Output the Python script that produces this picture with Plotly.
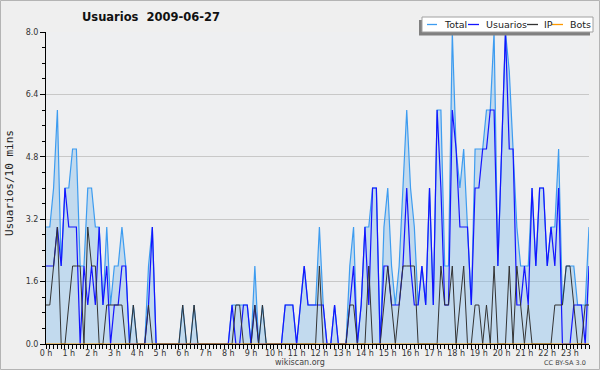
import plotly.graph_objects as go

# ---- data (one value per 10 minutes, 144 slots) ----
usuarios = [2, 2, 2, 3, 2, 4, 3, 3, 3, 0, 2, 1, 2, 1, 3, 1, 2, 0, 1, 1, 2, 2, 0, 0,
            0, 0, 0, 1, 3, 0, 0, 0, 0, 0, 0, 0, 0, 0, 0, 0, 0, 0, 0, 0, 0, 0, 0, 0,
            0, 1, 0, 0, 1, 1, 0, 1, 0, 0, 0, 0, 0, 0, 0, 1, 1, 1, 0, 1, 2, 1, 1, 1,
            1, 1, 0, 0, 1, 0, 0, 0, 1, 2, 0, 1, 3, 1, 4, 4, 0, 2, 2, 1, 1, 1, 2, 4,
            2, 1, 1, 2, 1, 4, 1, 6, 4, 1, 1, 6, 5, 3, 3, 3, 1, 4, 4, 5, 5, 6, 6, 2,
            5, 8, 5, 5, 1, 1, 2, 1, 4, 2, 4, 4, 2, 3, 2, 4, 0, 0, 0, 1, 1, 1, 0, 2]
ip = [1, 1, 2, 3, 0, 0, 1, 2, 2, 2, 0, 3, 2, 2, 0, 0, 1, 1, 1, 1, 1, 0, 0, 1,
      0, 0, 0, 1, 0, 0, 0, 0, 0, 0, 0, 0, 1, 0, 0, 1, 0, 0, 0, 0, 0, 0, 0, 0,
      0, 0, 1, 1, 0, 0, 0, 1, 0, 1, 0, 0, 0, 0, 0, 0, 0, 0, 0, 0, 0, 0, 0, 0,
      2, 0, 0, 0, 0, 0, 0, 0, 1, 1, 0, 0, 0, 2, 0, 0, 0, 1, 2, 1, 0, 1, 2, 2,
      2, 2, 0, 0, 0, 0, 0, 0, 2, 1, 1, 2, 0, 1, 2, 0, 0, 1, 1, 0, 1, 0, 2, 0,
      0, 0, 2, 0, 2, 1, 0, 1, 0, 0, 0, 0, 0, 0, 1, 1, 1, 2, 2, 1, 0, 0, 1, 1]
total = [3, 3, 4, 6, 2, 4, 4, 5, 5, 2, 2, 4, 4, 3, 3, 1, 3, 1, 2, 2, 3, 2, 0, 1,
         0, 0, 0, 2, 3, 0, 0, 0, 0, 0, 0, 0, 1, 0, 0, 1, 0, 0, 0, 0, 0, 0, 0, 0,
         0, 1, 1, 1, 1, 1, 0, 2, 0, 1, 0, 0, 0, 0, 0, 1, 1, 1, 0, 1, 2, 1, 1, 1,
         3, 1, 0, 0, 1, 0, 0, 0, 2, 3, 0, 1, 3, 3, 4, 4, 0, 3, 4, 2, 1, 2, 4, 6,
         4, 3, 1, 2, 1, 4, 1, 6, 6, 2, 2, 8, 5, 4, 5, 3, 1, 5, 5, 5, 6, 6, 8, 2,
         5, 8, 7, 5, 3, 2, 2, 2, 4, 2, 4, 4, 2, 3, 3, 5, 1, 2, 2, 2, 1, 1, 1, 3]
bots = [0, 0, 0, 0, 0, 0, 0, 0, 0, 0, 0, 0, 0, 0, 0, 0, 0, 0, 0, 0, 0, 0, 0, 0,
        0, 0, 0, 0, 0, 0, 0, 0, 0, 0, 0, 0, 0, 0, 0, 0, 0, 0, 0, 0, 0, 0, 0, 0,
        0, 0, 0, 0, 0, 0, 0, 0, 0, 0, 0, 0, 0, 0, 0, 0, 0, 0, 0, 0, 0, 0, 0, 0,
        0, 0, 0, 0, 0, 0, 0, 0, 0, 0, 0, 0, 0, 0, 0, 0, 0, 0, 0, 0, 0, 0, 0, 0,
        0, 0, 0, 0, 0, 0, 0, 0, 0, 0, 0, 0, 0, 0, 0, 0, 0, 0, 0, 0, 0, 0, 0, 0,
        0, 0, 0, 0, 0, 0, 0, 0, 0, 0, 0, 0, 0, 0, 0, 0, 0, 0, 0, 0, 0, 0, 0, 0]
hour_labels = ["0 h", "1 h", "2 h", "3 h", "4 h", "5 h", "6 h", "7 h", "8 h", "9 h",
               "10 h", "11 h", "12 h", "13 h", "14 h", "15 h", "16 h", "17 h",
               "18 h", "19 h", "20 h", "21 h", "22 h", "23 h"]
y_tick_values = [0.0, 1.6, 3.2, 4.8, 6.4, 8.0]
y_tick_labels = ["0.0", "1.6", "3.2", "4.8", "6.4", "8.0"]
series_names = ["Total", "Usuarios", "IP", "Bots"]
series_colors = ["#3d9cf0", "#1414ff", "#333333", "#ff9900"]

slots = list(range(len(total)))

# ---- layout geometry (pixels) ----
W, H = 600, 370
ML, MR, MT, MB = 46, 11, 32, 26
PW, PH = W - ML - MR, H - MT - MB


def px(x):
    return (x - ML) / PW


def py(y):
    return (H - MB - y) / PH


fig = go.Figure()
fig.add_trace(go.Scatter(x=slots, y=total, mode="lines", name=series_names[0],
                         line=dict(color=series_colors[0], width=1.2),
                         fill="tozeroy", fillcolor="rgba(124,185,235,0.38)",
                         showlegend=False, hoverinfo="skip"))
fig.add_trace(go.Scatter(x=slots, y=usuarios, mode="lines", name=series_names[1],
                         line=dict(color=series_colors[1], width=1.2),
                         showlegend=False, hoverinfo="skip"))
fig.add_trace(go.Scatter(x=slots, y=ip, mode="lines", name=series_names[2],
                         line=dict(color=series_colors[2], width=1),
                         showlegend=False, hoverinfo="skip"))
fig.add_trace(go.Scatter(x=slots, y=bots, mode="lines", name=series_names[3],
                         line=dict(color=series_colors[3], width=1),
                         showlegend=False, hoverinfo="skip"))

hour_ticks = [h * 6 for h in range(len(hour_labels))]
y_minor = [round(i * 0.4, 1) for i in range(21) if round(i * 0.4, 1) not in y_tick_values]

fig.update_xaxes(range=[0, len(total) - 1], tickmode="array", tickvals=hour_ticks,
                 ticktext=hour_labels, ticks="outside", ticklen=4, tickcolor="#000",
                 tickwidth=1, showline=True, linecolor="#000", linewidth=1,
                 showgrid=False, zeroline=False, ticklabelstandoff=-3,
                 tickfont=dict(family="DejaVu Sans", size=8, color="#333"),
                 minor=dict(tickmode="array", tickvals=slots, ticks="outside",
                            ticklen=4, tickcolor="#000", showgrid=False))
fig.update_yaxes(range=[0, 8], tickmode="array", tickvals=y_tick_values,
                 ticktext=y_tick_labels, ticks="outside", ticklen=5, tickcolor="#000",
                 showline=True, linecolor="#000", linewidth=1,
                 showgrid=True, gridcolor="#c8c8c8", gridwidth=1, zeroline=False,
                 tickfont=dict(family="DejaVu Sans", size=8, color="#333"),
                 minor=dict(tickmode="array", tickvals=y_minor, ticks="outside",
                            ticklen=3, tickcolor="#000", showgrid=False))

shapes = [
    # outer frame
    dict(type="rect", xref="paper", yref="paper", x0=px(0.5), x1=px(599.5),
         y0=py(369.5), y1=py(0.5), line=dict(color="#b4b4b4", width=1), layer="above"),
    # legend shadow + box
    dict(type="rect", xref="paper", yref="paper", x0=px(419), x1=px(590),
         y0=py(35.5), y1=py(20), fillcolor="#808080", line=dict(width=0), layer="above"),
    dict(type="rect", xref="paper", yref="paper", x0=px(422), x1=px(593),
         y0=py(32), y1=py(17), fillcolor="#ffffff", line=dict(color="#a0a0a0", width=1),
         layer="above"),
]
legend_lines = [(427, 437), (468, 479), (527, 538), (552, 563)]
legend_text_x = [442, 484, 542, 568]
annotations = []
for name, color, (a, b), tx in zip(series_names, series_colors, legend_lines, legend_text_x):
    shapes.append(dict(type="line", xref="paper", yref="paper", x0=px(a), x1=px(b),
                       y0=py(24.5), y1=py(24.5), line=dict(color=color, width=1.3),
                       layer="above"))
    annotations.append(dict(text=name, xref="paper", yref="paper", x=px(tx), y=py(24.5),
                            xanchor="left", yanchor="middle", showarrow=False,
                            font=dict(family="DejaVu Sans", size=9.5, color="#222")))

annotations += [
    dict(text="Usuarios/10 mins", xref="paper", yref="paper", x=px(10), y=py(183),
         textangle=-90, showarrow=False, xanchor="center", yanchor="middle",
         font=dict(family="DejaVu Sans Mono", size=11, color="#222")),
    dict(text="wikiscan.org", xref="paper", yref="paper", x=px(300), y=py(362),
         showarrow=False, xanchor="center", yanchor="middle",
         font=dict(family="DejaVu Sans", size=8, color="#444")),
    dict(text="CC BY-SA 3.0", xref="paper", yref="paper", x=px(565), y=py(363),
         showarrow=False, xanchor="center", yanchor="middle",
         font=dict(family="DejaVu Sans", size=6.5, color="#444")),
]

fig.update_layout(
    width=W, height=H,
    margin=dict(l=ML, r=MR, t=MT, b=MB, pad=0),
    paper_bgcolor="#efefef", plot_bgcolor="#eeeff1",
    title=dict(text="<b>Usuarios\u00a0\u00a02009-06-27</b>", x=151 / W, xanchor="center",
               xref="container", y=1 - 17 / H, yanchor="middle", yref="container",
               font=dict(family="DejaVu Sans", size=11.5, color="#111")),
    shapes=shapes, annotations=annotations, showlegend=False,
)

fig.write_html("out.html", config={"displayModeBar": False},
               post_script="document.body.style.margin='0';document.body.style.padding='0';")
